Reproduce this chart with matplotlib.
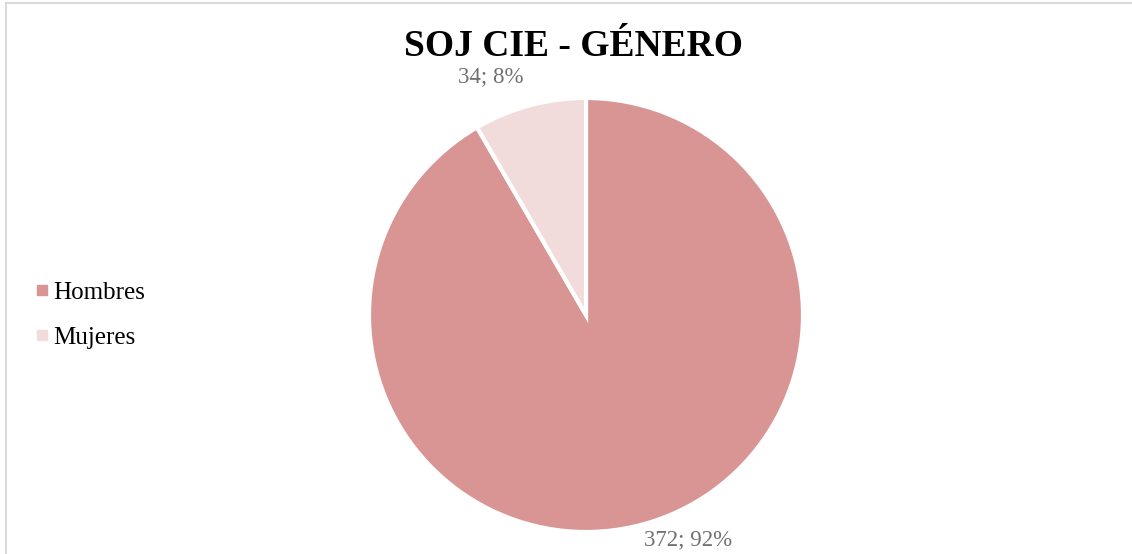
import matplotlib
matplotlib.use("Agg")
import matplotlib.pyplot as plt
from matplotlib.lines import Line2D
from matplotlib.patches import Rectangle

categories = ["Hombres", "Mujeres"]
values = [372, 34]
percents = [92, 8]
colors = ["#D99594", "#F2DBDB"]
title = "SOJ CIE - GÉNERO"

W, H = 1132, 554
fig = plt.figure(figsize=(W / 100, H / 100), dpi=100)
serif = ["Liberation Serif", "DejaVu Serif"]

# frame border
fig.patches.append(Rectangle((6 / W, -0.01), 1.02, 1 - 3 / H + 0.01, transform=fig.transFigure,
                             fill=False, edgecolor="#D9D9D9", lw=1.5))

cx, cy, r = 586, H - 315, 217
ax = fig.add_axes([(cx - r) / W, (cy - r) / H, 2 * r / W, 2 * r / H])
wedges, _ = ax.pie(values, colors=colors, startangle=90, counterclock=False,
                   radius=1, wedgeprops=dict(edgecolor="white", linewidth=3))
ax.set_xlim(-1, 1)
ax.set_ylim(-1, 1)
ax.set_aspect("equal")
ax.axis("off")

label_pos = [(0.47, -1.035), (-0.44, 1.10)]
for (x, y), v, p in zip(label_pos, values, percents):
    ax.text(x, y, f"{v}; {p}%", ha="center", va="center", fontsize=16.5,
            color="#707070", family=serif, clip_on=False)

fig.text(573 / W, 1 - 47 / H, title, ha="center", va="center", fontsize=27,
         fontweight="bold", family=serif, color="black")

handles = [Line2D([], [], marker="s", linestyle="none", markersize=7,
                  markerfacecolor=c, markeredgecolor=c) for c in colors]
leg = fig.legend(handles, categories, loc="center left",
                 bbox_to_anchor=(0.011, 1 - 315 / H), frameon=False,
                 prop=dict(family=serif, size=18), handlelength=0.6,
                 handletextpad=0.15, labelspacing=0.9)

fig.savefig("out.png", dpi=100)
